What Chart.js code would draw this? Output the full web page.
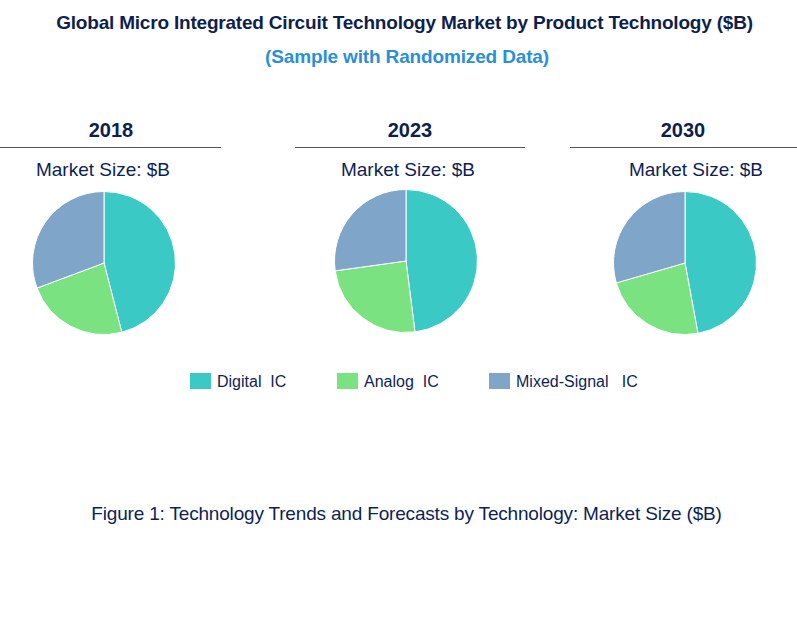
<!DOCTYPE html>
<html>
<head>
<meta charset="utf-8">
<script src="https://cdn.jsdelivr.net/npm/chart.js@4/dist/chart.umd.min.js"></script>
<style>
  html, body { margin: 0; padding: 0; background: #fff; }
  body { width: 797px; height: 621px; position: relative; overflow: hidden;
         font-family: "Liberation Sans", Arial, sans-serif; color: #0d1f55; }
  .abs { position: absolute; white-space: nowrap; }
  .title { left: 0; width: 809px; top: 12px; text-align: center; font-weight: bold;
           font-size: 19px; letter-spacing: -0.2px; color: #0e1f4d; }
  .subtitle { left: 0; width: 814px; top: 46px; text-align: center; font-weight: bold;
              font-size: 19px; letter-spacing: -0.15px; color: #2b8fd8; }
  .year { font-weight: bold; font-size: 20px; text-align: center; color: #0e1f4d; }
  .rule { height: 0; border-top: 1.5px solid #555; }
  .sub { font-size: 19px; text-align: center; color: #0d1f55; }
  .legend-item { font-size: 16px; color: #0d1f55; top: 373px; }
  .legend-item span.box { display: inline-block; width: 21px; height: 16px; vertical-align: -2px; margin-right: 6px; }
  .caption { left: 0; width: 813px; top: 503px; text-align: center; font-size: 19px;
             letter-spacing: -0.18px; color: #0d1f55; }
  canvas { position: absolute; }
</style>
</head>
<body>
<div class="abs title">Global Micro Integrated Circuit Technology Market by Product Technology ($B)</div>
<div class="abs subtitle">(Sample with Randomized Data)</div>

<div id="panels"></div>
<div id="legend"></div>

<div class="abs caption">Figure 1: Technology Trends and Forecasts by Technology: Market Size ($B)</div>

<script>
const years = ['2018', '2023', '2030'];
const categories = ['Digital  IC', 'Analog  IC', 'Mixed-Signal   IC'];
const colors = ['#3bc9c5', '#7be281', '#7fa5c9'];
const share2018 = [46.0, 23.3, 30.7];
const share2023 = [48.0, 24.8, 27.2];
const share2030 = [47.1, 23.4, 29.5];
const shares = [share2018, share2023, share2030];

// panel geometry: heading rule, heading centre, pie centre
const panels = [
  { ruleL: 0,   ruleR: 221, yearX: 111, subX: 103, cx: 104, cy: 263 },
  { ruleL: 295, ruleR: 525, yearX: 410, subX: 408, cx: 406, cy: 261 },
  { ruleL: 570, ruleR: 797, yearX: 683, subX: 696, cx: 685, cy: 263 }
];

const host = document.getElementById('panels');
panels.forEach((p, i) => {
  const yr = document.createElement('div');
  yr.className = 'abs year';
  yr.style.left = (p.yearX - 60) + 'px';
  yr.style.width = '120px';
  yr.style.top = '119px';
  yr.textContent = years[i];
  host.appendChild(yr);

  const rule = document.createElement('div');
  rule.className = 'abs rule';
  rule.style.left = p.ruleL + 'px';
  rule.style.width = (p.ruleR - p.ruleL) + 'px';
  rule.style.top = '147px';
  host.appendChild(rule);

  const sub = document.createElement('div');
  sub.className = 'abs sub';
  sub.style.left = (p.subX - 100) + 'px';
  sub.style.width = '200px';
  sub.style.top = '159px';
  sub.textContent = 'Market Size: $B';
  host.appendChild(sub);

  const cv = document.createElement('canvas');
  cv.width = 150; cv.height = 150;
  cv.style.left = (p.cx - 75) + 'px';
  cv.style.top = (p.cy - 75) + 'px';
  cv.style.width = '150px'; cv.style.height = '150px';
  host.appendChild(cv);

  new Chart(cv, {
    type: 'pie',
    data: {
      labels: categories,
      datasets: [{
        data: shares[i],
        backgroundColor: colors,
        borderColor: '#ffffff',
        borderWidth: 1
      }]
    },
    options: {
      responsive: false,
      animation: false,
      layout: { padding: 3 },
      plugins: { legend: { display: false }, tooltip: { enabled: false } }
    }
  });
});

// shared legend
const legendX = [190, 337, 489];
const legend = document.getElementById('legend');
categories.forEach((c, i) => {
  const item = document.createElement('div');
  item.className = 'abs legend-item';
  item.style.left = legendX[i] + 'px';
  const box = document.createElement('span');
  box.className = 'box';
  box.style.background = colors[i];
  item.appendChild(box);
  item.appendChild(document.createTextNode(c.replace(/ /g, '\u00a0')));
  legend.appendChild(item);
});
</script>
</body>
</html>
